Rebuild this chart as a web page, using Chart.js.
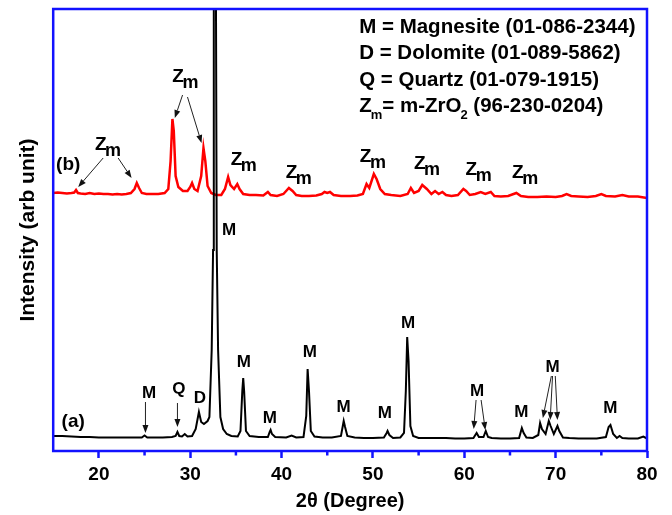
<!DOCTYPE html>
<html>
<head>
<meta charset="utf-8">
<script src="https://cdn.jsdelivr.net/npm/chart.js@4.4.1/dist/chart.umd.min.js"></script>
<style>
  html, body { margin: 0; padding: 0; background: #fff; }
</style>
</head>
<body>
<canvas id="xrdChart" width="672" height="515"></canvas>
<script>
// --- data: [2theta, intensity (arb)] ---
const patternA = [
  [15, 15], [16, 15], [17, 14.5], [18, 14], [19, 14], [20, 13.5], [21, 13.5], [22, 13.5], [23, 13.5],
  [24, 13.5], [24.7, 13.5], [25.0, 15.5], [25.3, 13.5], [26, 13.5], [27, 13.5], [28.0, 14], [28.4, 15],
  [28.6, 19], [28.8, 15], [29.1, 14.5], [29.4, 17], [29.7, 14.5], [30.2, 15], [30.6, 22], [30.95, 39],
  [31.2, 29], [31.5, 27], [31.9, 30], [32.1, 34], [32.35, 101], [32.5, 201], [32.58, 442], [32.62, 700],
  [32.78, 700], [32.82, 442], [32.9, 201], [33.05, 101], [33.3, 34], [33.6, 22], [34.0, 17], [34.5, 15],
  [35.2, 14.5], [35.5, 20], [35.7, 60], [35.8, 73], [35.9, 60], [36.1, 20], [36.5, 15], [37.5, 14],
  [38.5, 14], [38.7, 19], [38.8, 21], [38.95, 17], [39.3, 14], [40.5, 13.5], [41.1, 15.5], [41.6, 13.5],
  [42.4, 14], [42.7, 35], [42.85, 82], [43.0, 60], [43.2, 20], [43.6, 14.5], [44.5, 13.5], [45.5, 13.5],
  [46.5, 15], [46.7, 25], [46.8, 30], [46.95, 24], [47.2, 15], [48.0, 13.5], [49, 13], [50, 13],
  [51.2, 13.5], [51.5, 18], [51.6, 20], [51.8, 16], [52.2, 13], [53.0, 13.5], [53.4, 18], [53.6, 60],
  [53.75, 114], [53.9, 90], [54.1, 25], [54.4, 15], [55, 13], [56, 13], [57, 13], [58, 13], [59, 12.5],
  [60, 12.5], [61, 13], [61.35, 18], [61.6, 14], [62.1, 14], [62.35, 20], [62.6, 14], [63, 13],
  [64, 12.5], [65, 12.5], [66, 13], [66.3, 23], [66.5, 18], [66.8, 13.5], [67.5, 13], [68.1, 16],
  [68.3, 28], [68.5, 22], [68.9, 17], [69.25, 30], [69.45, 25], [69.8, 17], [70.2, 25], [70.4, 20],
  [70.8, 13.5], [71.5, 13], [72.5, 12.5], [73.5, 12.5], [74.5, 12.5], [75.5, 14], [75.8, 24], [76.0, 26],
  [76.3, 17], [76.7, 13], [77.0, 15], [77.3, 13], [78, 12.5], [79, 12.5], [79.6, 14.5], [80, 12.5]
];

const patternB = [
  [15, 258], [15.5, 258.5], [16, 258], [16.5, 257.5], [17, 258], [17.3, 258.5], [17.5, 261], [17.7, 258],
  [18, 257.5], [18.5, 257], [19, 258], [19.5, 257], [20, 257.5], [20.5, 257], [21, 257], [21.5, 256.5],
  [22, 257], [22.5, 256.5], [23, 257], [23.5, 258], [23.9, 262], [24.15, 268], [24.4, 263], [24.7, 258],
  [25.2, 257], [25.8, 257], [26.5, 257], [27.2, 258], [27.6, 262], [27.85, 290], [28.05, 332], [28.2, 320],
  [28.4, 275], [28.7, 264], [29.2, 260], [29.7, 260], [30.0, 264], [30.2, 268], [30.45, 262], [30.8, 260],
  [31.2, 275], [31.45, 303], [31.65, 290], [31.9, 265], [32.3, 258], [32.8, 256], [33.4, 256], [33.8, 262],
  [34.15, 274], [34.4, 266], [34.8, 262], [35.15, 267], [35.4, 262], [35.8, 257], [36.5, 256], [37.2, 256],
  [38, 255.5], [38.5, 259], [38.8, 256], [39.5, 255], [40.2, 257], [40.8, 263], [41.2, 260], [41.6, 256],
  [42.2, 255], [43, 255], [43.8, 255.5], [44.4, 257], [44.7, 259], [45.0, 258], [45.3, 259], [45.7, 256],
  [46.5, 255], [47.5, 255], [48.3, 255.5], [48.9, 257], [49.3, 267], [49.6, 263], [50.1, 277], [50.4, 272],
  [50.8, 262], [51.3, 257], [52, 256], [53, 255], [53.8, 257], [54.15, 263], [54.5, 258], [55.0, 260],
  [55.4, 266], [55.9, 262], [56.4, 257], [56.8, 260], [57.2, 257], [57.6, 259], [58.0, 256], [58.6, 255],
  [59.3, 256], [59.9, 262], [60.2, 260], [60.6, 256], [61.2, 257], [61.8, 259], [62.3, 257], [62.9, 259],
  [63.3, 255], [64, 254.5], [64.8, 255], [65.7, 258], [66.2, 255], [67, 254], [68, 254], [69, 254.5],
  [70, 254], [70.7, 255], [71.2, 257], [71.7, 255], [72.5, 254.5], [73.5, 254], [74.4, 255], [75.0, 257],
  [75.5, 255], [76.5, 254.5], [77.3, 256], [78, 254.5], [79, 254.5], [80, 253]
];

const xTickValues = [20, 30, 40, 50, 60, 70, 80];
const xMinorTicks = [25, 35, 45, 55, 65, 75];

// phase labels, placed in data coordinates [2theta, intensity]
const phaseLabels = [
  ['M', 25.5, 58], ['Q', 28.75, 62], ['D', 31.05, 53], ['M', 34.25, 221], ['M', 35.86, 89],
  ['M', 38.7, 33], ['M', 43.1, 99], ['M', 46.8, 44], ['M', 51.3, 38], ['M', 53.85, 128],
  ['M', 61.4, 60], ['M', 66.25, 39], ['M', 69.66, 84], ['M', 75.98, 43]
];
const zmLabels = [
  [20.2, 308], [28.68, 376], [35.07, 293], [41.08, 280], [49.2, 296], [55.12, 289], [60.78, 283], [65.87, 280]
];
const sampleLabels = [['(a)', 17.19, 29], ['(b)', 16.64, 286]];

// arrows [fromX, fromY, toX, toY]
const arrows = [
  [25.1, 49, 25.1, 18], [28.6, 48, 28.6, 24],
  [61.29, 51, 61.03, 22], [61.84, 51, 62.3, 21],
  [69.53, 75, 68.6, 33], [69.66, 75, 69.4, 31], [69.96, 75, 70.2, 31],
  [20.47, 293, 17.74, 264], [22.11, 293, 23.58, 273],
  [29.16, 356, 28.31, 333], [29.7, 354, 31.24, 308]
];

const legendLines = [
  [['M = Magnesite (01-086-2344)']],
  [['D = Dolomite (01-089-5862)']],
  [['Q = Quartz (01-079-1915)']],
  [['Z'], ['m', 'sub'], ['= m-ZrO'], ['2', 'sub'], [' (96-230-0204)']]
];

const FONT = '"Liberation Sans", Arial, sans-serif';
const frameBlue = '#1212ff';

function drawArrow(ctx, x1, y1, x2, y2) {
  const ang = Math.atan2(y2 - y1, x2 - x1);
  const len = 8, half = 3;
  const bx = x2 - len * Math.cos(ang), by = y2 - len * Math.sin(ang);
  ctx.beginPath(); ctx.moveTo(x1, y1); ctx.lineTo(bx, by); ctx.stroke();
  ctx.beginPath();
  ctx.moveTo(x2, y2);
  ctx.lineTo(bx + half * Math.sin(ang), by - half * Math.cos(ang));
  ctx.lineTo(bx - half * Math.sin(ang), by + half * Math.cos(ang));
  ctx.closePath(); ctx.fill();
}

const xrdExtras = {
  id: 'xrdExtras',
  afterDatasetsDraw(chart) {
    const { ctx, chartArea: a, scales: { x, y } } = chart;
    ctx.save();

    // minor ticks + frame
    ctx.strokeStyle = frameBlue;
    ctx.lineWidth = 2.5;
    xMinorTicks.forEach(v => {
      const px = x.getPixelForValue(v);
      ctx.beginPath(); ctx.moveTo(px, a.bottom); ctx.lineTo(px, a.bottom + 4.5); ctx.stroke();
    });
    ctx.strokeRect(a.left, a.top, a.right - a.left, a.bottom - a.top);

    // arrows
    ctx.strokeStyle = '#222';
    ctx.fillStyle = '#111';
    ctx.lineWidth = 1;
    arrows.forEach(([x1, y1, x2, y2]) => {
      drawArrow(ctx, x.getPixelForValue(x1), y.getPixelForValue(y1), x.getPixelForValue(x2), y.getPixelForValue(y2));
    });

    // labels
    ctx.fillStyle = '#000';
    ctx.textAlign = 'center';
    ctx.textBaseline = 'middle';
    ctx.font = 'bold 17px ' + FONT;
    phaseLabels.forEach(([t, vx, vy]) => ctx.fillText(t, x.getPixelForValue(vx), y.getPixelForValue(vy)));

    ctx.font = 'bold 19px ' + FONT;
    sampleLabels.forEach(([t, vx, vy]) => ctx.fillText(t, x.getPixelForValue(vx), y.getPixelForValue(vy)));

    ctx.textBaseline = 'alphabetic';
    zmLabels.forEach(([vx, vy]) => {
      const px = x.getPixelForValue(vx), py = y.getPixelForValue(vy);
      ctx.font = 'bold 19px ' + FONT;
      ctx.textAlign = 'center';
      const zw = ctx.measureText('Z').width;
      ctx.fillText('Z', px, py + 6.8);
      ctx.font = 'bold 18px ' + FONT;
      ctx.textAlign = 'left';
      ctx.fillText('m', px + zw / 2 - 1.5, py + 13.3);
    });

    // legend block
    const lx = a.left + 306;
    let ly = a.top + 17;
    ctx.textAlign = 'left';
    legendLines.forEach(parts => {
      let cx = lx;
      parts.forEach(([t, kind]) => {
        if (kind === 'sub') {
          ctx.font = 'bold 13px ' + FONT;
          ctx.fillText(t, cx - 1, ly + 14);
          cx += ctx.measureText(t).width - 1;
        } else {
          ctx.font = 'bold 20.5px ' + FONT;
          ctx.fillText(t, cx, ly + 7);
          cx += ctx.measureText(t).width;
        }
      });
      ly += 26.4;
    });

    ctx.restore();
  }
};

const toPoints = arr => arr.map(([tx, iy]) => ({ x: tx, y: iy }));

new Chart(document.getElementById('xrdChart').getContext('2d'), {
  type: 'line',
  data: {
    datasets: [
      {
        label: '(a)',
        data: toPoints(patternA),
        borderColor: '#000000',
        borderWidth: 2,
        pointRadius: 0,
        tension: 0
      },
      {
        label: '(b)',
        data: toPoints(patternB),
        borderColor: '#ff0000',
        borderWidth: 2.5,
        pointRadius: 0,
        tension: 0
      }
    ]
  },
  options: {
    responsive: false,
    animation: false,
    parsing: false,
    layout: { padding: { left: 12, right: 25, top: 9, bottom: 0 } },
    plugins: { legend: { display: false }, tooltip: { enabled: false } },
    scales: {
      x: {
        type: 'linear',
        min: 15,
        max: 80,
        afterBuildTicks: s => { s.ticks = xTickValues.map(v => ({ value: v })); },
        border: { display: false },
        grid: { display: true, drawOnChartArea: false, drawTicks: true, tickLength: 7, tickWidth: 2.5, tickColor: frameBlue },
        ticks: { color: '#000', font: { family: FONT, size: 19, weight: 'bold', lineHeight: 1 }, padding: 7, maxRotation: 0, autoSkip: false },
        title: { display: true, text: '2θ (Degree)', color: '#000', font: { family: FONT, size: 20, weight: 'bold', lineHeight: 1 }, padding: { top: 0, bottom: 4 } }
      },
      y: {
        type: 'linear',
        min: 0,
        max: 442,
        border: { display: false },
        grid: { display: false, drawTicks: false },
        ticks: { display: false },
        title: { display: true, text: 'Intensity (arb unit)', color: '#000', font: { family: FONT, size: 21, weight: 'bold' }, padding: { top: 4, bottom: 12 } }
      }
    }
  },
  plugins: [xrdExtras]
});
</script>
</body>
</html>
